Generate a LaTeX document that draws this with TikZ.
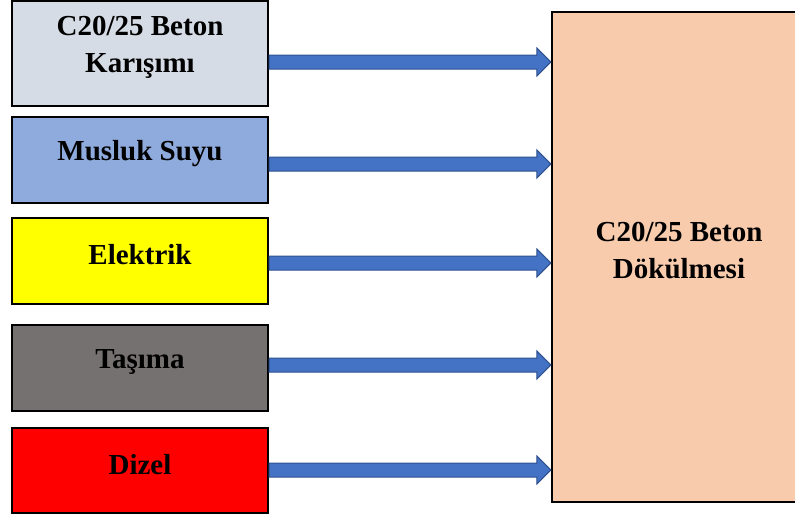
\documentclass[tikz,border=0pt]{standalone}
\usepackage{fontspec}
\setmainfont{Liberation Serif}
\usetikzlibrary{calc}

\definecolor{karisim}{HTML}{D6DCE5}
\definecolor{su}{HTML}{8FAADC}
\definecolor{elektrik}{HTML}{FFFF00}
\definecolor{tasima}{HTML}{767171}
\definecolor{dizel}{HTML}{FF0000}
\definecolor{dokum}{HTML}{F8CBAD}
\definecolor{okfill}{HTML}{4472C4}
\definecolor{okline}{HTML}{2F528F}

% block arrow from node #1 to node #2 at height #3
\newcommand{\blockarrow}[3]{%
  \coordinate (s) at (#1.east |- 0,#3);
  \coordinate (e) at (#2.west |- 0,#3);
  \draw[okarrow] ($(s)+(0,-7)$) -- ($(e)+(-14,-7)$) -- ($(e)+(-14,-14)$)
    -- (e) -- ($(e)+(-14,14)$) -- ($(e)+(-14,7)$) -- ($(s)+(0,7)$) -- cycle;
}

\begin{document}
\begin{tikzpicture}[x=1pt, y=-1pt,
    inbox/.style={draw=black, line width=2.2pt, minimum width=256pt, minimum height=86pt, inner sep=0pt},
    lbl/.style={font=\bfseries\fontsize{29}{37}\selectfont, align=center, yshift=6pt},
    okarrow/.style={fill=okfill, draw=okline, line width=1pt, line join=miter}]
    \useasboundingbox (0,0) rectangle (795,515);
    \node[inbox, fill=karisim, minimum height=105pt, label={[lbl]center:C20/25 Beton\\Karışımı}] (beton) at (140,53.5) {};
    \node[inbox, fill=su, label={[lbl]center:Musluk Suyu}] (su) at (140,160) {};
    \node[inbox, fill=elektrik, label={[lbl]center:Elektrik}] (elektrik) at (140,261) {};
    \node[inbox, fill=tasima, label={[lbl]center:Taşıma}] (tasima) at (140,368) {};
    \node[inbox, fill=dizel, minimum height=85pt, label={[lbl]center:Dizel}] (dizel) at (140,470.5) {};
    \node[inbox, fill=dokum, minimum width=254pt, minimum height=490pt, label={[lbl]center:C20/25 Beton\\Dökülmesi}] (dokum) at (679,257) {};
    \blockarrow{beton}{dokum}{62}
    \blockarrow{su}{dokum}{164}
    \blockarrow{elektrik}{dokum}{263}
    \blockarrow{tasima}{dokum}{365}
    \blockarrow{dizel}{dokum}{470}
\end{tikzpicture}
\end{document}
